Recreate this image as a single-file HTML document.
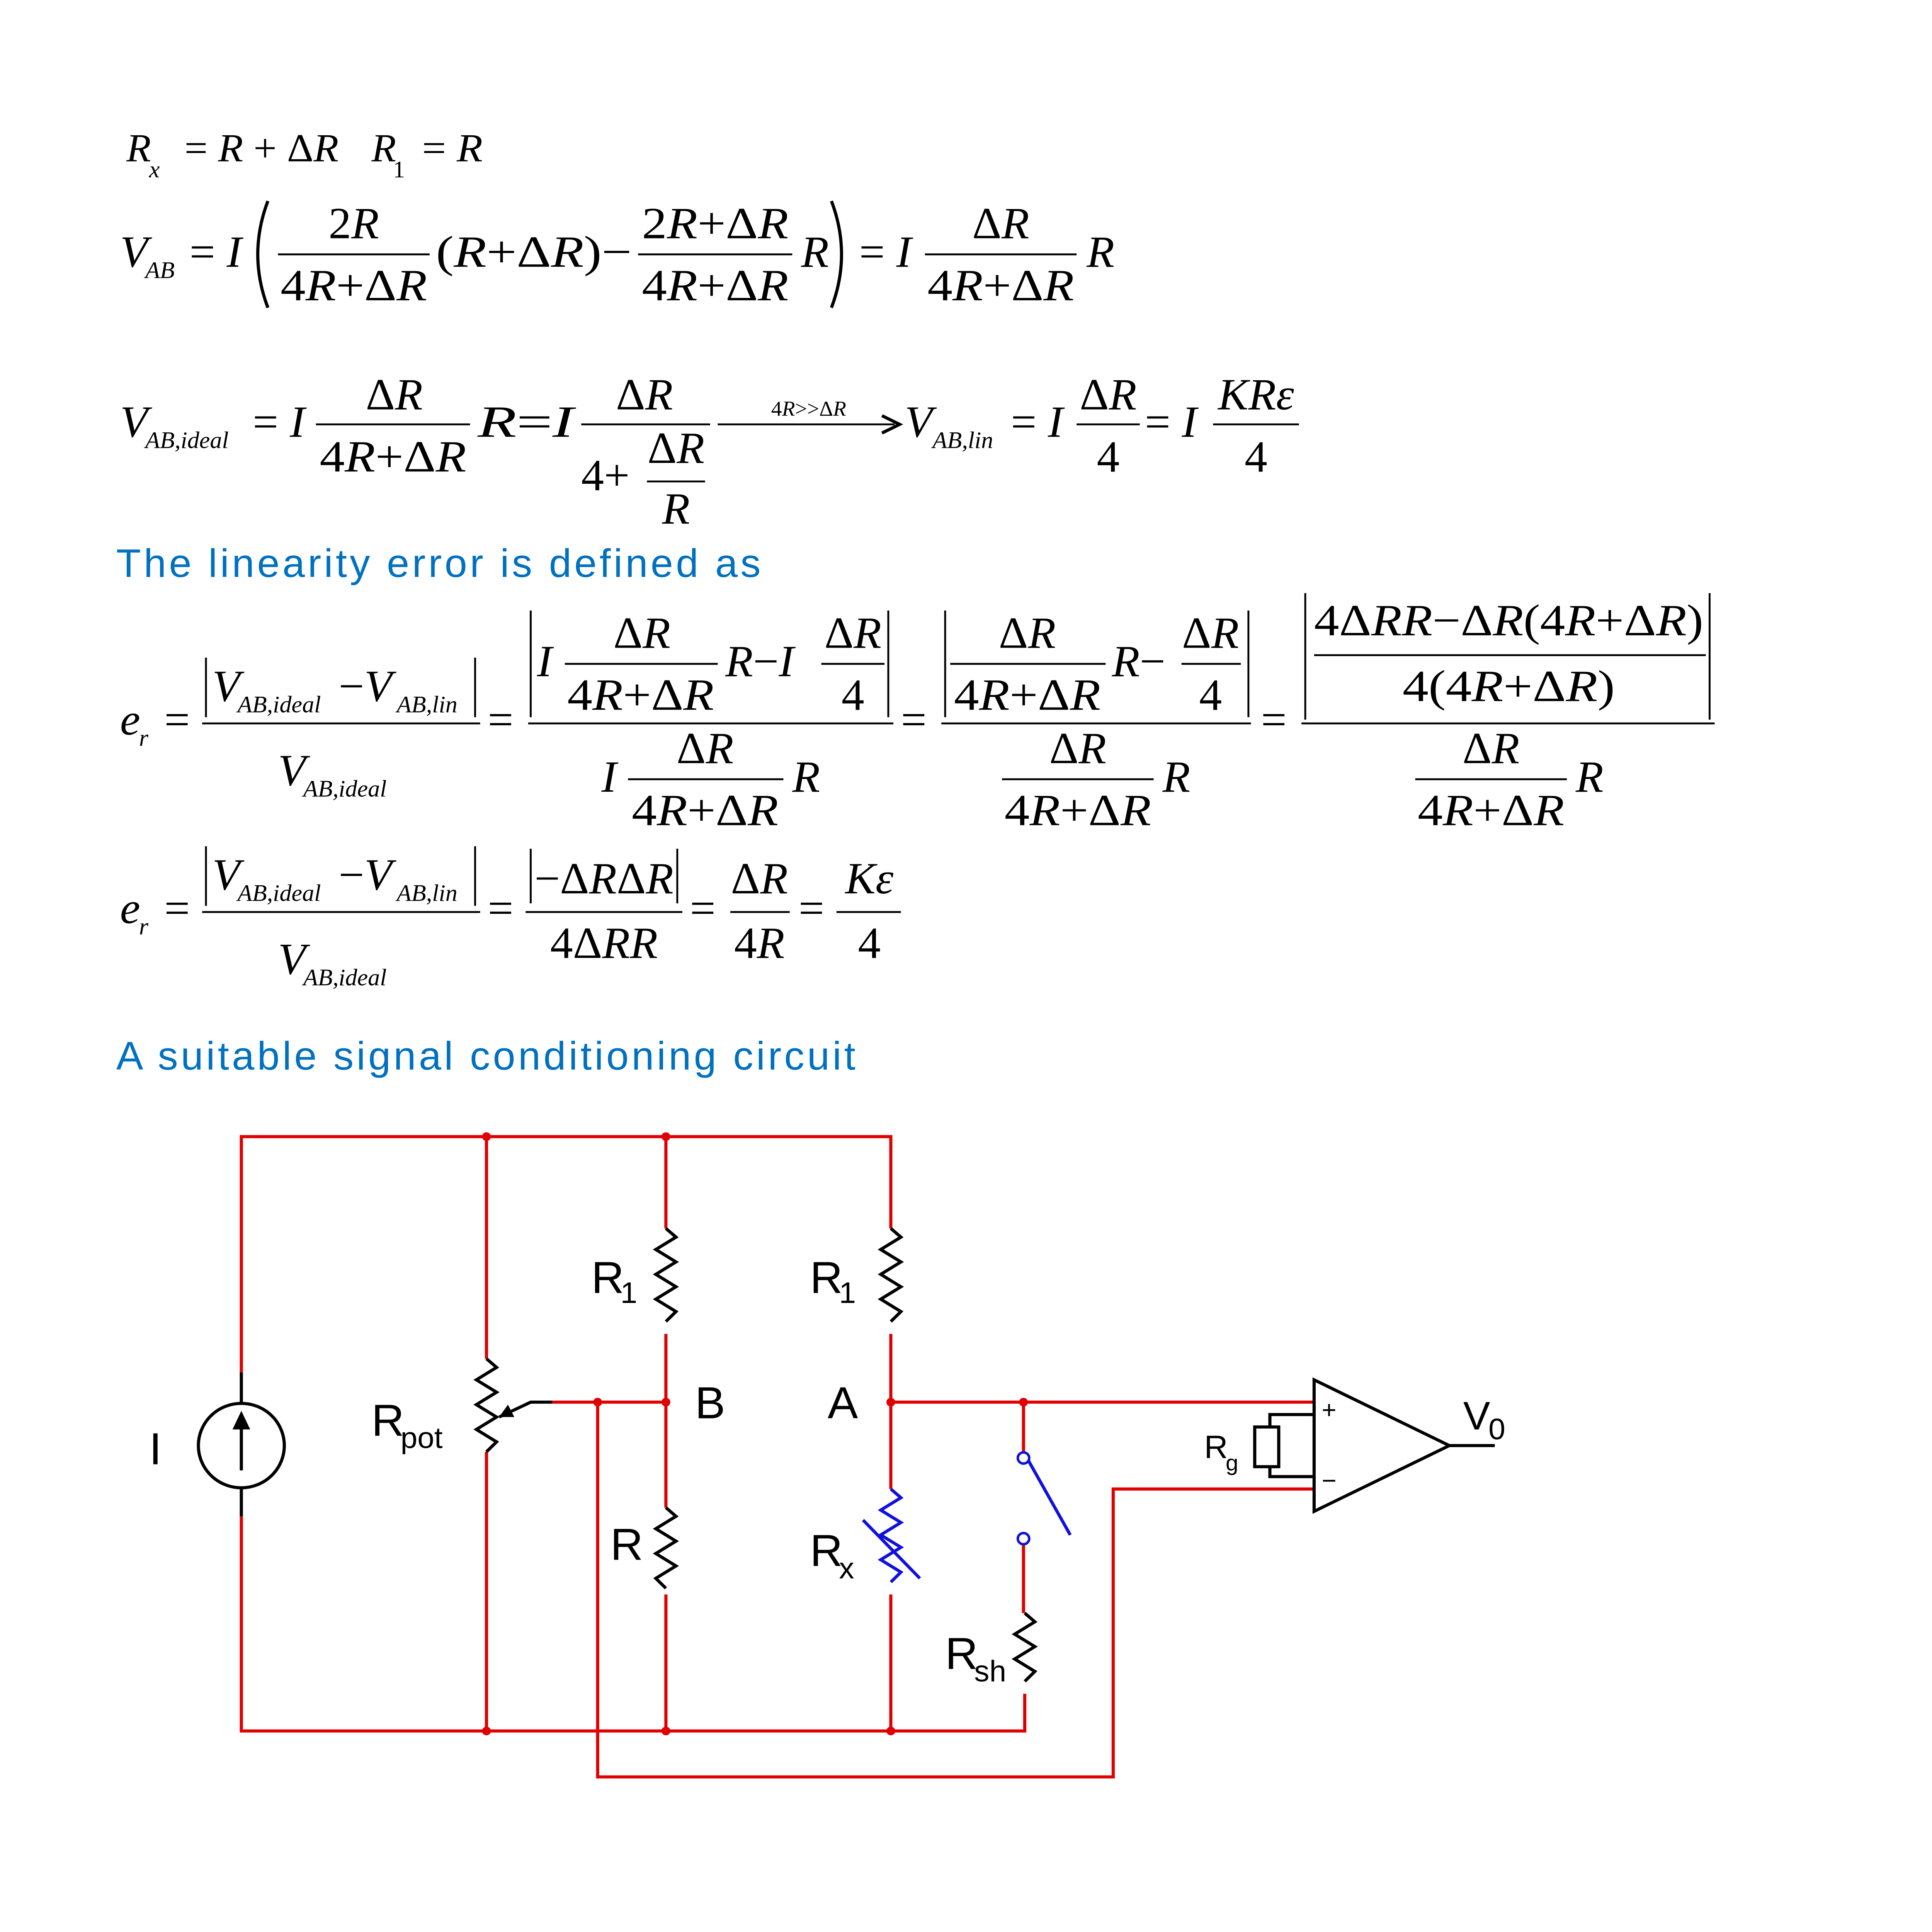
<!DOCTYPE html>
<html><head><meta charset="utf-8"><style>
html,body{margin:0;padding:0;background:#fff;overflow:hidden;width:100vw;height:100vh}
svg{display:block;width:100vw;height:100vh}
text{font-family:"Liberation Serif",serif;font-size:36px;fill:#000}
.i{font-style:italic}
.s{font-size:19px;font-style:italic}
.m{text-anchor:middle}
.b{font-family:"Liberation Sans",sans-serif;fill:#0070C0;font-size:32px}
.c{font-family:"Liberation Sans",sans-serif;font-size:36px}
.cs{font-family:"Liberation Sans",sans-serif;font-size:24px}
.r{stroke:#e00000;stroke-width:2.5;fill:none}
.k{stroke:#000;stroke-width:2.5;fill:none}
.bl{stroke:#1010e0;stroke-width:2.5;fill:none}
.fb{stroke:#000;stroke-width:1.5}
</style></head><body>
<svg viewBox="0 0 1529 1557" preserveAspectRatio="none" xmlns="http://www.w3.org/2000/svg">
<!-- line 1 -->
<text x="100" y="130" class="i" style="font-size:32px">R</text><text x="118" y="143" class="s">x</text>
<text x="146" y="130" style="font-size:32px" textLength="122" lengthAdjust="spacingAndGlyphs">= <tspan class="i">R</tspan> + Δ<tspan class="i">R</tspan></text>
<text x="294" y="130" class="i" style="font-size:32px">R</text><text x="311" y="143" class="s" style="font-style:normal">1</text>
<text x="334" y="130" style="font-size:32px" textLength="48" lengthAdjust="spacingAndGlyphs">= <tspan class="i">R</tspan></text>

<!-- line 2 -->
<text x="95" y="215" class="i">V</text><text x="115" y="224" class="s">AB</text>
<text x="150" y="215">= <tspan class="i">I</tspan></text>
<path d="M212 162 Q196 205 212 248" class="k" stroke-width="2"/>
<text x="280" y="192" class="m">2<tspan class="i">R</tspan></text>
<line x1="220" y1="205" x2="340" y2="205" class="fb"/>
<text x="222" y="242" textLength="116" lengthAdjust="spacingAndGlyphs">4<tspan class="i">R</tspan>+Δ<tspan class="i">R</tspan></text>
<text x="345" y="215" textLength="155" lengthAdjust="spacingAndGlyphs">(<tspan class="i">R</tspan>+Δ<tspan class="i">R</tspan>)−</text>
<text x="508" y="192" textLength="116" lengthAdjust="spacingAndGlyphs">2<tspan class="i">R</tspan>+Δ<tspan class="i">R</tspan></text>
<line x1="505" y1="205" x2="627" y2="205" class="fb"/>
<text x="508" y="242" textLength="116" lengthAdjust="spacingAndGlyphs">4<tspan class="i">R</tspan>+Δ<tspan class="i">R</tspan></text>
<text x="634" y="215" class="i">R</text>
<path d="M658 162 Q674 205 658 248" class="k" stroke-width="2"/>
<text x="680" y="215">= <tspan class="i">I</tspan></text>
<text x="792" y="192" class="m">Δ<tspan class="i">R</tspan></text>
<line x1="732" y1="205" x2="852" y2="205" class="fb"/>
<text x="734" y="242" textLength="116" lengthAdjust="spacingAndGlyphs">4<tspan class="i">R</tspan>+Δ<tspan class="i">R</tspan></text>
<text x="860" y="215" class="i">R</text>

<!-- line 3 -->
<text x="95" y="352" class="i">V</text><text x="115" y="361" class="s">AB,ideal</text>
<text x="200" y="352">= <tspan class="i">I</tspan></text>
<text x="312" y="330" class="m">Δ<tspan class="i">R</tspan></text>
<line x1="250" y1="342" x2="372" y2="342" class="fb"/>
<text x="253" y="380" textLength="116" lengthAdjust="spacingAndGlyphs">4<tspan class="i">R</tspan>+Δ<tspan class="i">R</tspan></text>
<text x="378" y="352" textLength="76" lengthAdjust="spacingAndGlyphs"><tspan class="i">R</tspan>=<tspan class="i">I</tspan></text>
<text x="510" y="330" class="m">Δ<tspan class="i">R</tspan></text>
<line x1="460" y1="342" x2="562" y2="342" class="fb"/>
<text x="460" y="395">4+</text>
<text x="535" y="373" class="m">Δ<tspan class="i">R</tspan></text>
<line x1="512" y1="388" x2="558" y2="388" class="fb"/>
<text x="535" y="422" class="m i">R</text>
<line x1="568" y1="342" x2="708" y2="342" class="fb"/>
<path d="M698 335 L712 342 L698 349" class="k" stroke-width="1.5"/>
<text x="640" y="335" class="m" style="font-size:17px">4<tspan class="i">R</tspan>&gt;&gt;Δ<tspan class="i">R</tspan></text>
<text x="716" y="352" class="i">V</text><text x="738" y="361" class="s">AB,lin</text>
<text x="800" y="352">= <tspan class="i">I</tspan></text>
<text x="877" y="330" class="m">Δ<tspan class="i">R</tspan></text>
<line x1="852" y1="342" x2="902" y2="342" class="fb"/>
<text x="877" y="380" class="m">4</text>
<text x="906" y="352">= <tspan class="i">I</tspan></text>
<text x="994" y="330" class="m i">KRε</text>
<line x1="960" y1="342" x2="1028" y2="342" class="fb"/>
<text x="994" y="380" class="m">4</text>

<text x="92" y="465" class="b" textLength="510">The linearity error is defined as</text>

<!-- e_r line 1 -->
<text x="95" y="592" class="i">e</text><text x="110" y="601" class="s">r</text>
<text x="130" y="592">=</text>
<line x1="163" y1="530" x2="163" y2="578" class="fb"/><line x1="376" y1="530" x2="376" y2="578" class="fb"/>
<text x="168" y="565" class="i">V</text><text x="188" y="574" class="s">AB,ideal</text>
<text x="268" y="565">−<tspan class="i">V</tspan></text><text x="314" y="574" class="s">AB,lin</text>
<line x1="160" y1="583" x2="380" y2="583" class="fb"/>
<text x="220" y="633" class="i">V</text><text x="240" y="642" class="s">AB,ideal</text>
<text x="386" y="592">=</text>
<line x1="420" y1="492" x2="420" y2="578" class="fb"/><line x1="703" y1="492" x2="703" y2="578" class="fb"/>
<text x="425" y="545" class="i">I</text>
<text x="508" y="522" class="m">Δ<tspan class="i">R</tspan></text>
<line x1="447" y1="535" x2="568" y2="535" class="fb"/>
<text x="449" y="572" textLength="116" lengthAdjust="spacingAndGlyphs">4<tspan class="i">R</tspan>+Δ<tspan class="i">R</tspan></text>
<text x="574" y="545"><tspan class="i">R</tspan>−<tspan class="i">I</tspan></text>
<text x="675" y="522" class="m">Δ<tspan class="i">R</tspan></text>
<line x1="650" y1="535" x2="700" y2="535" class="fb"/>
<text x="675" y="572" class="m">4</text>
<line x1="418" y1="583" x2="707" y2="583" class="fb"/>
<text x="476" y="638" class="i">I</text>
<text x="558" y="615" class="m">Δ<tspan class="i">R</tspan></text>
<line x1="497" y1="628" x2="620" y2="628" class="fb"/>
<text x="500" y="665" textLength="116" lengthAdjust="spacingAndGlyphs">4<tspan class="i">R</tspan>+Δ<tspan class="i">R</tspan></text>
<text x="627" y="638" class="i">R</text>
<text x="713" y="592">=</text>
<line x1="748" y1="492" x2="748" y2="578" class="fb"/><line x1="988" y1="492" x2="988" y2="578" class="fb"/>
<text x="813" y="522" class="m">Δ<tspan class="i">R</tspan></text>
<line x1="752" y1="535" x2="875" y2="535" class="fb"/>
<text x="755" y="572" textLength="116" lengthAdjust="spacingAndGlyphs">4<tspan class="i">R</tspan>+Δ<tspan class="i">R</tspan></text>
<text x="880" y="545"><tspan class="i">R</tspan>−</text>
<text x="958" y="522" class="m">Δ<tspan class="i">R</tspan></text>
<line x1="935" y1="535" x2="982" y2="535" class="fb"/>
<text x="958" y="572" class="m">4</text>
<line x1="745" y1="583" x2="990" y2="583" class="fb"/>
<text x="853" y="615" class="m">Δ<tspan class="i">R</tspan></text>
<line x1="793" y1="628" x2="913" y2="628" class="fb"/>
<text x="795" y="665" textLength="116" lengthAdjust="spacingAndGlyphs">4<tspan class="i">R</tspan>+Δ<tspan class="i">R</tspan></text>
<text x="920" y="638" class="i">R</text>
<text x="998" y="592">=</text>
<line x1="1033" y1="478" x2="1033" y2="580" class="fb"/><line x1="1353" y1="478" x2="1353" y2="580" class="fb"/>
<text x="1040" y="512" textLength="308" lengthAdjust="spacingAndGlyphs">4Δ<tspan class="i">RR</tspan>−Δ<tspan class="i">R</tspan>(4<tspan class="i">R</tspan>+Δ<tspan class="i">R</tspan>)</text>
<line x1="1040" y1="528" x2="1350" y2="528" class="fb"/>
<text x="1110" y="565" textLength="168" lengthAdjust="spacingAndGlyphs">4(4<tspan class="i">R</tspan>+Δ<tspan class="i">R</tspan>)</text>
<line x1="1030" y1="583" x2="1357" y2="583" class="fb"/>
<text x="1180" y="615" class="m">Δ<tspan class="i">R</tspan></text>
<line x1="1120" y1="628" x2="1240" y2="628" class="fb"/>
<text x="1122" y="665" textLength="116" lengthAdjust="spacingAndGlyphs">4<tspan class="i">R</tspan>+Δ<tspan class="i">R</tspan></text>
<text x="1247" y="638" class="i">R</text>

<!-- e_r line 2 -->
<text x="95" y="744" class="i">e</text><text x="110" y="753" class="s">r</text>
<text x="130" y="744">=</text>
<line x1="163" y1="682" x2="163" y2="730" class="fb"/><line x1="376" y1="682" x2="376" y2="730" class="fb"/>
<text x="168" y="717" class="i">V</text><text x="188" y="726" class="s">AB,ideal</text>
<text x="268" y="717">−<tspan class="i">V</tspan></text><text x="314" y="726" class="s">AB,lin</text>
<line x1="160" y1="735" x2="380" y2="735" class="fb"/>
<text x="220" y="785" class="i">V</text><text x="240" y="794" class="s">AB,ideal</text>
<text x="386" y="744">=</text>
<line x1="420" y1="684" x2="420" y2="728" class="fb"/><line x1="536" y1="684" x2="536" y2="728" class="fb"/>
<text x="423" y="720" textLength="110" lengthAdjust="spacingAndGlyphs">−Δ<tspan class="i">R</tspan>Δ<tspan class="i">R</tspan></text>
<line x1="416" y1="735" x2="540" y2="735" class="fb"/>
<text x="478" y="772" class="m">4Δ<tspan class="i">RR</tspan></text>
<text x="546" y="744">=</text>
<text x="601" y="720" class="m">Δ<tspan class="i">R</tspan></text>
<line x1="578" y1="735" x2="625" y2="735" class="fb"/>
<text x="601" y="772" class="m">4<tspan class="i">R</tspan></text>
<text x="632" y="744">=</text>
<text x="688" y="720" class="m i">Kε</text>
<line x1="662" y1="735" x2="713" y2="735" class="fb"/>
<text x="688" y="772" class="m">4</text>

<text x="92" y="862" class="b" textLength="585">A suitable signal conditioning circuit</text>

<!-- circuit -->
<path class="r" d="M191 1106 V916 H705 V990 M527 916 V990 M385 916 V1095 M385 1170 V1395 M191 1222 V1395 H811 V1365 M527 1075 V1215 M527 1285 V1395 M705 1075 V1200 M705 1285 V1395 M437 1130 H527 M705 1130 H1040 M810 1130 V1170 M473 1130 V1432 H881 V1200 H1040 M810 1245 V1300"/>
<path class="k" d="M191 1106 V1131 M191 1199 V1222"/>
<path class="k" d="M527 990 l8 7 l-16 10 l16 10 l-16 10 l16 10 l-16 10 l16 10 l-8 8 M705 990 l8 7 l-16 10 l16 10 l-16 10 l16 10 l-16 10 l16 10 l-8 8 M527 1215 l8 7 l-16 10 l16 10 l-16 10 l16 10 l-16 10 l8 8 M811 1300 l8 7 l-16 10 l16 10 l-16 10 l16 10 l-8 8 M385 1095 l8 7 l-16 10 l16 10 l-16 10 l16 10 l-16 10 l16 10 l-8 8"/>
<path class="k" d="M437 1130 H420 L395 1142"/><path d="M395 1142 L402 1132 L407 1142 Z" fill="#000"/>
<path class="bl" d="M705 1200 l8 7 l-16 10 l16 10 l-16 10 l16 10 l-16 10 l16 10 l-8 8 M683 1225 L728 1272 M810 1170 L847 1237"/>
<circle cx="810" cy="1175" r="4.5" fill="#fff" stroke="#1010e0" stroke-width="2"/>
<circle cx="810" cy="1240" r="4.5" fill="#fff" stroke="#1010e0" stroke-width="2"/>
<circle cx="191" cy="1165" r="34" class="k"/>
<path class="k" d="M191 1185 V1145"/><path d="M184 1152 L191 1137 L198 1152 Z" fill="#000"/>
<path class="k" d="M1040 1112 V1218 L1147 1165 Z M1147 1165 H1183 M1040 1140 H1005 V1150 M1005 1182 V1190 H1040"/>
<rect x="993" y="1150" width="19" height="32" class="k"/>
<text x="1046" y="1143" style="font-family:'Liberation Sans',sans-serif;font-size:20px">+</text>
<text x="1046" y="1200" style="font-family:'Liberation Sans',sans-serif;font-size:20px">−</text>
<g fill="#e00000">
<circle cx="385" cy="916" r="3.5"/><circle cx="527" cy="916" r="3.5"/><circle cx="385" cy="1395" r="3.5"/><circle cx="527" cy="1395" r="3.5"/><circle cx="705" cy="1395" r="3.5"/><circle cx="473" cy="1130" r="3.5"/><circle cx="527" cy="1130" r="3.5"/><circle cx="705" cy="1130" r="3.5"/><circle cx="810" cy="1130" r="3.5"/>
</g>
<text x="118" y="1180" class="c">I</text>
<text x="294" y="1157" class="c">R</text><text x="317" y="1167" class="cs">pot</text>
<text x="468" y="1042" class="c">R</text><text x="491" y="1050" class="cs">1</text>
<text x="641" y="1042" class="c">R</text><text x="664" y="1050" class="cs">1</text>
<text x="550" y="1143" class="c">B</text>
<text x="655" y="1143" class="c">A</text>
<text x="483" y="1257" class="c">R</text>
<text x="641" y="1262" class="c">R</text><text x="664" y="1272" class="cs">x</text>
<text x="748" y="1345" class="c">R</text><text x="771" y="1355" class="cs">sh</text>
<text x="953" y="1175" style="font-family:'Liberation Sans',sans-serif;font-size:26px">R</text><text x="970" y="1185" style="font-family:'Liberation Sans',sans-serif;font-size:18px">g</text>
<text x="1158" y="1152" class="c" style="font-size:32px">V</text><text x="1178" y="1160" class="cs">0</text>
</svg>
</body></html>
